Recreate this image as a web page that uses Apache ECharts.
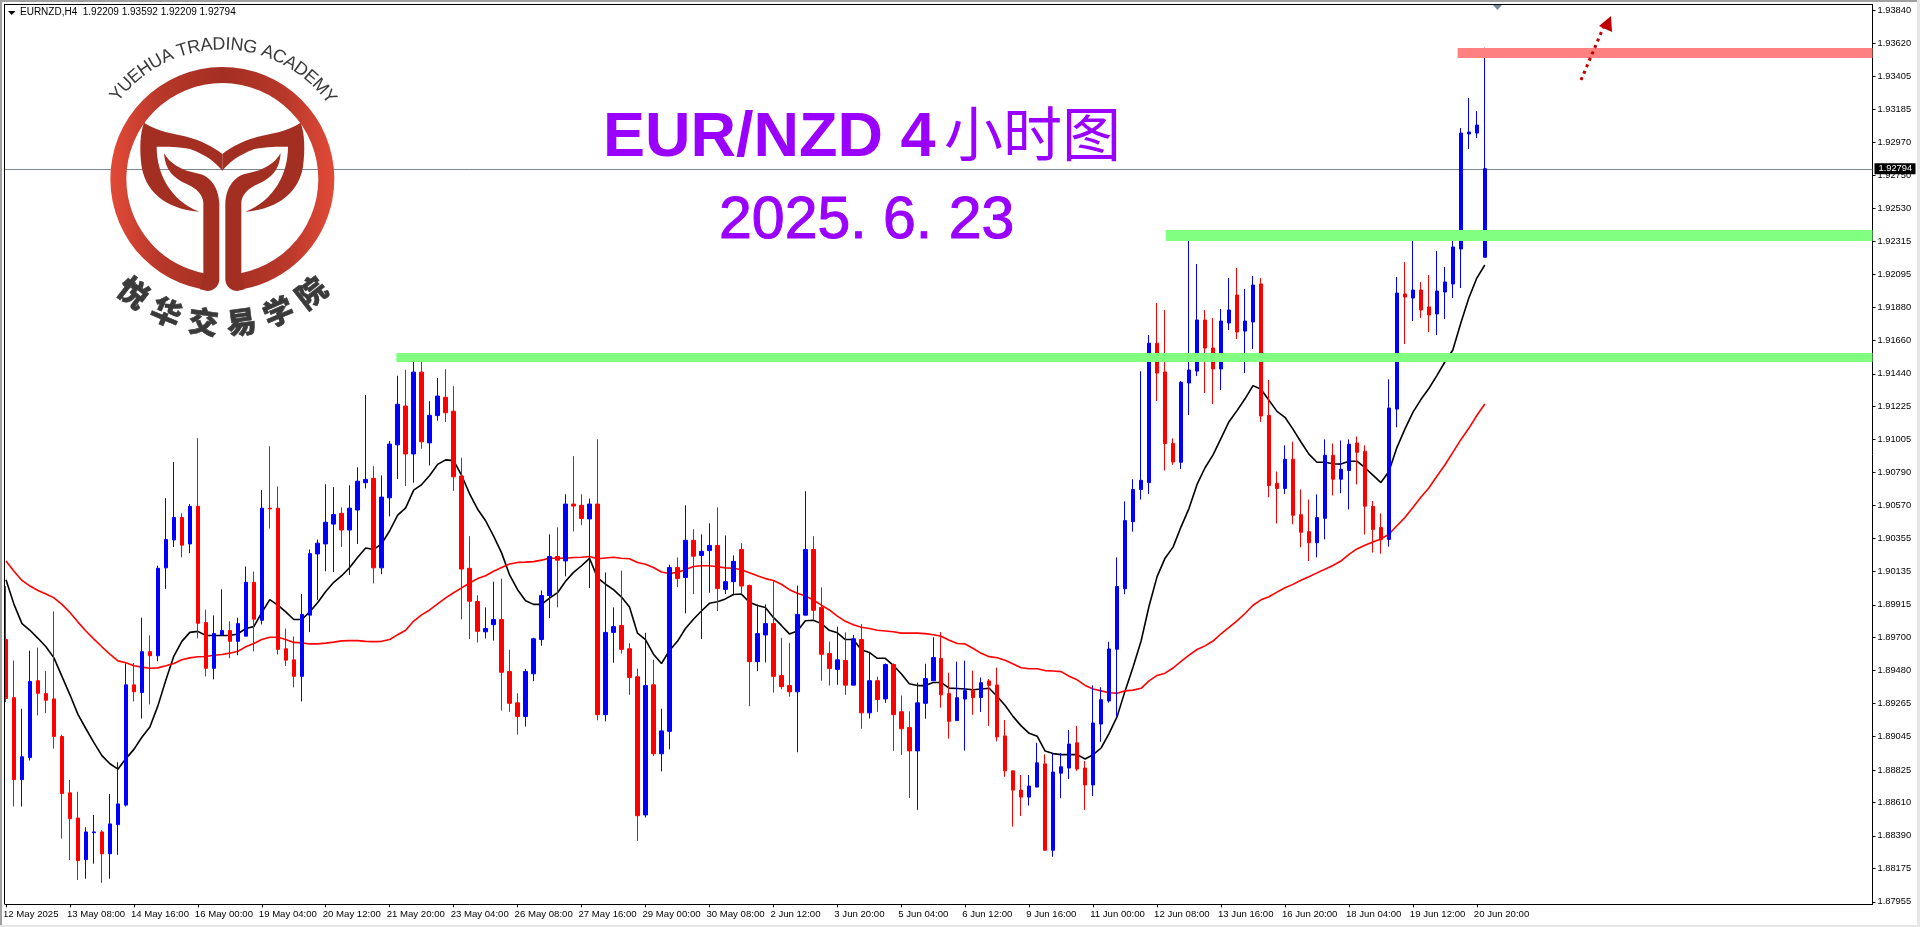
<!DOCTYPE html>
<html><head><meta charset="utf-8">
<style>html,body{margin:0;padding:0;background:#fff}#c{width:1920px;height:927px}</style>
<script src="https://cdn.jsdelivr.net/npm/echarts@6/dist/echarts.min.js"></script>
</head><body><div id="c"></div>
<script>
const tickLabels=["12 May 2025","13 May 08:00","14 May 16:00","16 May 00:00","19 May 04:00","20 May 12:00","21 May 20:00","23 May 04:00","26 May 08:00","27 May 16:00","29 May 00:00","30 May 08:00","2 Jun 12:00","3 Jun 20:00","5 Jun 04:00","6 Jun 12:00","9 Jun 16:00","11 Jun 00:00","12 Jun 08:00","13 Jun 16:00","16 Jun 20:00","18 Jun 04:00","19 Jun 12:00","20 Jun 20:00"];
const priceTicks=[1.9384,1.9362,1.93405,1.93185,1.9297,1.9275,1.9253,1.92315,1.92095,1.9188,1.9166,1.9144,1.91225,1.91005,1.9079,1.9057,1.90355,1.90135,1.89915,1.897,1.8948,1.89265,1.89045,1.88825,1.8861,1.8839,1.88175,1.87955];
const lastPrice=1.92794;
const opens=[1.89686,1.89302,1.88761,1.88907,1.89414,1.89329,1.89294,1.89046,1.88674,1.88508,
1.88233,1.88411,1.88416,1.88272,1.88464,1.88593,1.89387,1.89336,1.89606,1.89579,
1.90159,1.90343,1.90492,1.90317,1.90565,1.89798,1.89496,1.89716,1.89745,1.89674,
1.89708,1.90064,1.89813,1.90553,1.90553,1.89625,1.89552,1.89443,1.89847,1.90251,
1.90317,1.90448,1.90519,1.90409,1.90541,1.90721,1.9075,1.90159,1.90621,1.90971,
1.91227,1.90911,1.91451,1.90984,1.91164,1.91285,1.91193,1.90765,1.90156,1.89937,
1.89737,1.89784,1.89818,1.89475,1.89268,1.89178,1.8946,1.89686,1.89976,1.90234,
1.90205,1.9058,1.90572,1.90482,1.9058,1.8919,1.89733,1.89779,1.89625,1.8944,
1.88528,1.89387,1.88932,1.8908,1.90161,1.90095,1.90341,1.90241,1.90273,1.90307,
1.90017,1.90068,1.9028,1.90042,1.8954,1.89716,1.89791,1.89448,1.89382,1.89341,
1.89847,1.9028,1.89898,1.89594,1.89489,1.89548,1.89385,1.89686,1.89202,1.89414,
1.89294,1.89521,1.89209,1.89105,1.88951,1.89265,1.89414,1.8956,1.89329,1.89151,
1.89293,1.89349,1.89303,1.89413,1.89386,1.8905,1.88819,1.88692,1.88646,1.88712,
1.88865,1.88295,1.88804,1.88838,1.89004,1.88838,1.88726,1.89128,1.89281,1.89622,
1.90021,1.90464,1.90676,1.90722,1.91642,1.91452,1.9098,1.90856,1.91379,1.91458,
1.91795,1.9161,1.91472,1.91775,1.9196,1.91722,1.91782,1.92033,1.91165,1.90717,
1.90683,1.90876,1.9051,1.90398,1.90325,1.90486,1.90902,1.90744,1.90802,1.90983,
1.90929,1.90564,1.90425,1.90347,1.91207,1.91967,1.9194,1.91993,1.91881,1.91835,
1.9198,1.92033,1.92264,1.93023,1.93029,1.92209];
const closes=[1.89297,1.88761,1.88912,1.89409,1.89331,1.89285,1.89046,1.88669,1.88503,1.88226,
1.88416,1.88416,1.88272,1.88469,1.88601,1.89387,1.89341,1.89606,1.89579,1.90156,
1.90346,1.90492,1.90309,1.90565,1.89793,1.89496,1.89725,1.89745,1.89674,1.89791,
1.90064,1.8982,1.90553,1.90548,1.89621,1.8955,1.89443,1.89852,1.90253,1.90322,
1.9046,1.90511,1.90409,1.90553,1.90731,1.90743,1.90159,1.90626,1.90976,1.91239,
1.90911,1.91451,1.90991,1.91166,1.91293,1.91183,1.9076,1.90151,1.89939,1.8974,
1.89759,1.89818,1.8947,1.89265,1.89178,1.89475,1.89691,1.89976,1.90234,1.9021,
1.9058,1.90567,1.90485,1.9058,1.8919,1.89733,1.89771,1.89621,1.89436,1.88523,
1.89382,1.88932,1.89083,1.90161,1.90088,1.90341,1.90236,1.90268,1.90307,1.90022,
1.90068,1.90202,1.90039,1.8954,1.89725,1.89791,1.89443,1.89375,1.89341,1.89852,
1.9028,1.89879,1.89589,1.89494,1.89552,1.89385,1.89691,1.89202,1.89414,1.8929,
1.89521,1.8919,1.89097,1.88951,1.89268,1.89428,1.89567,1.89321,1.89146,1.89302,
1.89349,1.89303,1.89401,1.89383,1.89043,1.88819,1.88692,1.88646,1.88719,1.88872,
1.88295,1.88811,1.88846,1.88996,1.88831,1.88726,1.89135,1.89289,1.89624,1.90036,
1.90471,1.90676,1.90737,1.91642,1.91445,1.9098,1.90858,1.91384,1.91465,1.91795,
1.9161,1.91472,1.91788,1.91861,1.91716,1.91788,1.92026,1.91161,1.90703,1.90683,
1.90876,1.90506,1.90394,1.90325,1.90491,1.90902,1.90744,1.9081,1.90975,1.90922,
1.90566,1.90413,1.90345,1.91214,1.91973,1.91947,1.91993,1.91861,1.91828,1.91986,
1.92046,1.92277,1.93029,1.93036,1.93082,1.92794];
const highs=[1.90039,1.89548,1.89229,1.89613,1.89633,1.89479,1.89871,1.89058,1.88759,1.88681,
1.88447,1.88528,1.88428,1.88667,1.88876,1.89528,1.89531,1.8983,1.89713,1.90173,
1.90619,1.90857,1.90519,1.9058,1.91015,1.89883,1.89845,1.90017,1.89806,1.8983,
1.90168,1.90134,1.90672,1.90962,1.90696,1.89759,1.89706,1.89986,1.9028,1.90346,
1.90711,1.90692,1.90558,1.90704,1.90823,1.913,1.9083,1.90769,1.90996,1.91427,
1.91466,1.91543,1.91553,1.91259,1.91412,1.9147,1.91358,1.90886,1.90368,1.89978,
1.89898,1.90068,1.90088,1.89618,1.89331,1.89492,1.89698,1.9001,1.9038,1.90426,
1.90645,1.90896,1.90645,1.90616,1.91008,1.90129,1.89898,1.90141,1.89662,1.89494,
1.8973,1.89552,1.89229,1.9018,1.90227,1.90572,1.90414,1.9038,1.90453,1.90558,
1.90373,1.90241,1.90322,1.90049,1.89918,1.89918,1.90071,1.89698,1.89664,1.90042,
1.90665,1.90368,1.9003,1.89672,1.89771,1.89733,1.89716,1.89789,1.89601,1.8944,
1.89528,1.89528,1.89316,1.89212,1.89402,1.89526,1.89701,1.89735,1.89467,1.8954,
1.89547,1.89481,1.89435,1.89425,1.895,1.89155,1.88819,1.88792,1.88792,1.89004,
1.88928,1.88933,1.88936,1.89089,1.89116,1.88884,1.89383,1.89371,1.89671,1.90228,
1.90598,1.90744,1.91457,1.91696,1.91908,1.91861,1.91014,1.91392,1.92356,1.92165,
1.91861,1.91808,1.91868,1.92072,1.92138,1.92,1.92085,1.92072,1.91399,1.90795,
1.90968,1.90992,1.90676,1.9061,1.90644,1.91007,1.9098,1.91,1.91007,1.91026,
1.90968,1.906,1.90518,1.91404,1.92079,1.92178,1.92349,1.92046,1.92092,1.9225,
1.92145,1.92349,1.93062,1.9326,1.93174,1.93592];
const lows=[1.89273,1.88584,1.88584,1.88888,1.89185,1.892,1.88966,1.88372,1.88231,1.88099,
1.88107,1.88206,1.8808,1.88107,1.88265,1.88584,1.89277,1.89165,1.89258,1.89543,
1.9002,1.90297,1.90229,1.90256,1.89694,1.89443,1.89423,1.89716,1.89562,1.89582,
1.89708,1.89608,1.89786,1.90419,1.89587,1.89511,1.8937,1.89277,1.89735,1.89947,
1.90137,1.90132,1.90297,1.90112,1.90317,1.90684,1.90056,1.90117,1.90499,1.90745,
1.90699,1.90721,1.90945,1.90835,1.9113,1.91122,1.90667,1.8982,1.89689,1.89667,
1.89694,1.89679,1.89217,1.89209,1.89058,1.89112,1.89411,1.89645,1.89827,1.89898,
1.90103,1.90399,1.90441,1.90025,1.89153,1.89146,1.89533,1.89594,1.89321,1.88357,
1.88511,1.88917,1.88815,1.88961,1.90032,1.89859,1.89986,1.89689,1.89995,1.89874,
1.89986,1.89978,1.89986,1.89246,1.89477,1.89535,1.89336,1.89358,1.89309,1.88942,
1.89845,1.89813,1.89414,1.89382,1.89387,1.89321,1.89385,1.89097,1.89165,1.89209,
1.89268,1.88951,1.88924,1.8864,1.88562,1.89163,1.89414,1.89236,1.89032,1.89151,
1.88953,1.89189,1.89208,1.89116,1.89014,1.8878,1.88451,1.88522,1.8859,1.88712,
1.88291,1.88252,1.88639,1.88765,1.88819,1.88561,1.88653,1.89011,1.89269,1.89177,
1.89985,1.90398,1.9061,1.90647,1.9126,1.90802,1.90839,1.90812,1.91168,1.91425,
1.91313,1.91241,1.91333,1.91729,1.9167,1.91445,1.91604,1.91122,1.90625,1.90452,
1.90647,1.90447,1.90296,1.90204,1.90228,1.90347,1.90637,1.90652,1.90544,1.9071,
1.90379,1.9026,1.90252,1.90299,1.91087,1.91637,1.91788,1.91808,1.91716,1.91696,
1.91802,1.9194,1.92006,1.92924,1.92996,1.92209];
const fastMA=[1.90081,1.89918,1.89791,1.89747,1.89694,1.89638,1.89565,1.89443,1.89321,1.89192,
1.89097,1.89005,1.8892,1.88866,1.8883,1.889,1.88961,1.89041,1.89109,1.89248,
1.89419,1.89577,1.89674,1.89733,1.8974,1.89713,1.89713,1.89713,1.89713,1.89723,
1.89759,1.89771,1.89864,1.89949,1.89913,1.89869,1.89818,1.89818,1.89869,1.8993,
1.90003,1.90064,1.90107,1.90161,1.90229,1.9029,1.9028,1.90319,1.90404,1.90507,
1.90555,1.90672,1.90709,1.90769,1.90842,1.90872,1.90867,1.90769,1.90648,1.90546,
1.9047,1.90368,1.90258,1.90112,1.90015,1.89942,1.89918,1.89918,1.89959,1.89995,
1.90071,1.90129,1.90173,1.90222,1.90093,1.90051,1.90015,1.89966,1.89901,1.89728,
1.89686,1.89589,1.89528,1.89613,1.89674,1.89759,1.8982,1.89874,1.89925,1.89935,
1.89954,1.89983,1.89986,1.89932,1.8991,1.89898,1.89832,1.89779,1.89723,1.89742,
1.8981,1.89813,1.89791,1.89747,1.8973,1.89686,1.89686,1.89618,1.89601,1.89562,
1.89562,1.89516,1.8946,1.89394,1.89382,1.89382,1.89402,1.89402,1.89365,1.89363,
1.89359,1.89354,1.89359,1.89364,1.8931,1.8925,1.89177,1.89116,1.89067,1.89048,
1.8895,1.88933,1.88926,1.88926,1.88926,1.88897,1.88926,1.8897,1.89067,1.89177,
1.89347,1.89505,1.89676,1.89907,1.90101,1.90223,1.90296,1.9043,1.90552,1.9071,
1.9082,1.90905,1.91014,1.91124,1.91197,1.91275,1.91362,1.91338,1.91265,1.91192,
1.91153,1.91075,1.9099,1.9091,1.90856,1.90856,1.90846,1.90844,1.90863,1.90863,
1.9082,1.90771,1.90722,1.90795,1.90953,1.91075,1.91185,1.9127,1.91343,1.91428,
1.91518,1.91597,1.91775,1.9194,1.92072,1.92158];
const slowMA=[1.90205,1.90137,1.90076,1.90039,1.9001,1.89986,1.89961,1.89918,1.89864,1.89801,
1.89742,1.89689,1.89638,1.89589,1.89545,1.89533,1.89513,1.89504,1.89496,1.89499,
1.89513,1.89528,1.89552,1.89565,1.89572,1.89574,1.89582,1.89587,1.89596,1.89608,
1.89638,1.8966,1.89686,1.89701,1.89701,1.89686,1.89667,1.89664,1.89657,1.89657,
1.89662,1.89669,1.89677,1.89679,1.89679,1.89674,1.89672,1.89674,1.89686,1.89718,
1.89747,1.89808,1.89849,1.89881,1.89922,1.89961,1.89995,1.90027,1.90059,1.90088,
1.90107,1.90137,1.90161,1.90185,1.90195,1.90197,1.902,1.9021,1.90222,1.90222,
1.90222,1.90227,1.90229,1.90234,1.90219,1.90224,1.90229,1.90222,1.90219,1.90195,
1.90183,1.90161,1.90132,1.90122,1.90129,1.90149,1.90168,1.90173,1.90173,1.90166,
1.90159,1.90156,1.90146,1.90127,1.90107,1.90088,1.90076,1.90051,1.90015,1.89991,
1.89974,1.89947,1.89913,1.89881,1.8984,1.89806,1.89784,1.89767,1.89759,1.89747,
1.89742,1.89737,1.89728,1.89728,1.89728,1.89725,1.89718,1.89708,1.89681,1.8966,
1.89656,1.89627,1.89595,1.89573,1.89566,1.89549,1.89525,1.895,1.89493,1.89493,
1.89481,1.89478,1.89474,1.89444,1.8942,1.89383,1.89359,1.89347,1.89335,1.89332,
1.89347,1.89352,1.89364,1.89413,1.89449,1.89464,1.89498,1.89542,1.89583,1.8962,
1.89644,1.89676,1.89724,1.89766,1.89809,1.89858,1.89912,1.89948,1.89968,1.89999,
1.90028,1.9005,1.90077,1.90101,1.90126,1.9015,1.90175,1.90204,1.90248,1.90284,
1.90308,1.9033,1.9035,1.90381,1.90437,1.90491,1.90557,1.90625,1.90686,1.90764,
1.90838,1.90921,1.91005,1.9108,1.91165,1.91241];
const zoneStartBars=[48.83,145.08,181.6];
const zoneTops=[1.91577,1.92389,1.9359];
const zoneBottoms=[1.91518,1.92316,1.93524];
const zoneColors=['#80ff80','#80ff80','#ff8080'];
const headerText='EURNZD,H4  1.92209 1.93592 1.92209 1.92794';
const titleMain='EUR/NZD 4', titleCjk='小时图', titleDate='2025. 6. 23';
const logoEn='YUEHUA TRADING ACADEMY', logoCn='悦华交易学院';

const barCount=234;
const categories=Array.from({length:barCount},(_,i)=>i%8===0&&i/8<tickLabels.length?tickLabels[i/8]:'');
const isTick=i=>i%8===0&&i/8<tickLabels.length;
const candleData=opens.map((o,i)=>[o,closes[i],lows[i],highs[i]]);
const purple='#9900ff', logoRed='#a32f22', logoGrey='#3a3a3a';
const cx=222.33, cy=179;

echarts.graphic.registerShape('logoWing',echarts.graphic.extendPath('M432 368C470 395 530 402 560 410C600 420 640 440 667 462L667 513C650 490 620 465 570 447C535 440 500 440 470 440C470 520 510 600 598 635C520 630 440 590 425 500C418 450 420 400 432 368Z'));
echarts.graphic.registerShape('logoStem',echarts.graphic.extendPath('M492 460C510 490 540 510 590 520C625 525 655 555 658 610L658 840C656 860 640 873 622 873L600 868L610 822L610 610C610 585 590 565 560 552C520 535 495 510 492 460Z'));

const logo=[];
logo.push({type:'sector',z:50,shape:{cx,cy,r:112,r0:96,startAngle:101*Math.PI/180,endAngle:439*Math.PI/180,clockwise:true},
 style:{fill:{type:'linear',x:110,y:0,x2:335,y2:0,global:true,colorStops:[{offset:0,color:'#e34a38'},{offset:.22,color:'#b8382a'},{offset:.5,color:'#a32f22'},{offset:.78,color:'#b8382a'},{offset:1,color:'#e34a38'}]}}});
['logoWing','logoStem'].forEach(t=>{
 logo.push({type:t,z:51,scaleX:1/3,scaleY:1/3,style:{fill:logoRed}});
 logo.push({type:t,z:51,x:2*cx,scaleX:-1/3,scaleY:1/3,style:{fill:logoRed}});
});
const mc=document.createElement('canvas').getContext('2d');
const enFont='18px "Liberation Sans"';
mc.font=enFont;
const enR=134.5, enTotal=mc.measureText(logoEn).width;
let adv=0;
for(const ch of logoEn){
 const w=mc.measureText(ch).width;
 const a=(adv+w/2-enTotal/2)/enR+0.012;
 adv+=w;
 logo.push({type:'text',z:52,x:cx+enR*Math.sin(a),y:cy-enR*Math.cos(a),rotation:-a,style:{text:ch,font:enFont,fill:logoGrey,align:'center',verticalAlign:'middle'}});
}
[...logoCn].forEach((ch,k)=>{
 const a=(k-2.5)*15.2*Math.PI/180;
 logo.push({type:'text',z:52,x:cx+144*Math.sin(a),y:cy+144*Math.cos(a),rotation:a,style:{text:ch,font:'900 30px "Noto Sans CJK SC"',fill:logoGrey,stroke:logoGrey,lineWidth:0.6,align:'center',verticalAlign:'middle'}});
});

const chart=echarts.init(document.getElementById('c'),null,{renderer:'canvas'});
chart.setOption({
 animation:false,backgroundColor:'#fff',
 grid:{left:1.5,top:4.5,width:1871,height:899.8,show:false},
 xAxis:{type:'category',data:categories,boundaryGap:true,
  axisLine:{show:true,lineStyle:{color:'#000',width:1}},
  axisTick:{show:true,alignWithLabel:true,length:3,interval:isTick,lineStyle:{color:'#000'}},
  axisLabel:{show:true,interval:isTick,align:'left',margin:5,hideOverlap:false,fontFamily:'"Liberation Sans"',fontSize:9.6,color:'#000',padding:[0,0,0,-3]},
  splitLine:{show:false}},
 yAxis:{type:'value',position:'right',min:1.879383,max:1.938776,scale:true,
  axisLine:{show:true,onZero:false,lineStyle:{color:'#000',width:1}},
  axisTick:{show:true,length:3,customValues:priceTicks,lineStyle:{color:'#000'}},
  axisLabel:{show:true,customValues:priceTicks,margin:5,hideOverlap:false,fontFamily:'"Liberation Sans"',fontSize:9.3,color:'#000',formatter:v=>v.toFixed(5)},
  splitLine:{show:false}},
 series:[
  {type:'custom',z:1,silent:true,data:[[0,lastPrice]],encode:{x:0,y:1},
   renderItem:(params,api)=>{
    const y=Math.round(api.coord([0,lastPrice])[1])+0.5, cs=params.coordSys, right=cs.x+cs.width;
    return {type:'line',shape:{x1:cs.x,y1:y,x2:right,y2:y},style:{stroke:'#778899',lineWidth:1}};
   }},
  {type:'candlestick',data:candleData,barWidth:4,z:2,
   itemStyle:{color:'#0000ff',color0:'#ff0000',borderColor:'#0000ff',borderColor0:'#ff0000',borderWidth:1}},
  {type:'line',data:fastMA,showSymbol:false,z:2,lineStyle:{color:'#000',width:1.6}},
  {type:'line',data:slowMA,showSymbol:false,z:2,lineStyle:{color:'#ff0000',width:1.6}},
  {type:'custom',z:3,silent:true,data:zoneStartBars.map((_,k)=>[k,zoneTops[k]]),encode:{x:0,y:1},
   renderItem:(params,api)=>{
    const k=params.dataIndex, s=zoneStartBars[k], f=Math.floor(s);
    const band=api.size([1,0])[0];
    const x=api.coord([f,zoneTops[k]])[0]+(s-f)*band;
    const y0=api.coord([f,zoneTops[k]])[1], y1=api.coord([f,zoneBottoms[k]])[1];
    const right=params.coordSys.x+params.coordSys.width;
    return {type:'rect',shape:{x,y:y0,width:right-x,height:y1-y0},style:{fill:zoneColors[k],blend:'multiply'}};
   }},
  {type:'custom',z:9,silent:true,data:[[0,lastPrice]],encode:{x:0,y:1},
   renderItem:(params,api)=>{
    const y=api.coord([0,lastPrice])[1], right=params.coordSys.x+params.coordSys.width;
    return {type:'group',children:[
     {type:'rect',shape:{x:right+2,y:y-5.5,width:41,height:11},style:{fill:'#000'}},
     {type:'text',x:right+6,y:y,style:{text:lastPrice.toFixed(5),font:'9.3px "Liberation Sans"',fill:'#fff',verticalAlign:'middle'}}
    ]};
   }}
 ],
 graphic:{elements:[
  {type:'rect',z:40,shape:{x:0,y:0,width:4.5,height:927},style:{fill:'#fff'}},
  {type:'rect',z:41,shape:{x:4,y:4,width:1,height:900},style:{fill:'#000'}},
  {type:'rect',z:41,shape:{x:4,y:4,width:1869,height:1},style:{fill:'#000'}},
  {type:'rect',z:42,shape:{x:0,y:0,width:1920,height:2},style:{fill:'#a0a0a0'}},
  {type:'rect',z:42,shape:{x:0,y:0,width:2,height:927},style:{fill:'#a0a0a0'}},
  {type:'rect',z:42,shape:{x:1917,y:0,width:3,height:927},style:{fill:'#e6e6e6'}},
  {type:'rect',z:42,shape:{x:0,y:925,width:1920,height:2},style:{fill:'#e6e6e6'}},
  {type:'polygon',z:43,shape:{points:[[8,11],[15.5,11],[11.7,15]]},style:{fill:'#000'}},
  {type:'text',z:43,x:20,y:12.5,style:{text:headerText,font:'10px "Liberation Sans"',fill:'#000',verticalAlign:'middle'}},
  {type:'polygon',z:43,shape:{points:[[1493,5],[1502,5],[1497.5,10]]},style:{fill:'#778899'}},
  {type:'text',z:45,x:603,y:107,style:{text:titleMain,font:'bold 63px "Liberation Sans"',fill:purple}},
  {type:'text',z:45,x:944,y:104,style:{text:titleCjk,font:'59px "Noto Sans CJK SC"',fill:purple}},
  {type:'text',z:45,x:719,y:192,style:{text:titleDate,font:'59px "Liberation Sans"',fill:purple,stroke:purple,lineWidth:1}},
  {type:'line',z:45,shape:{x1:1581,y1:80,x2:1604,y2:26},style:{stroke:'#c00000',lineWidth:3,lineDash:[3,4]}},
  {type:'polygon',z:45,shape:{points:[[1611,16],[1599,26],[1612,32]]},style:{fill:'#c00000'}},
  ...logo
 ]}
});
</script></body></html>
